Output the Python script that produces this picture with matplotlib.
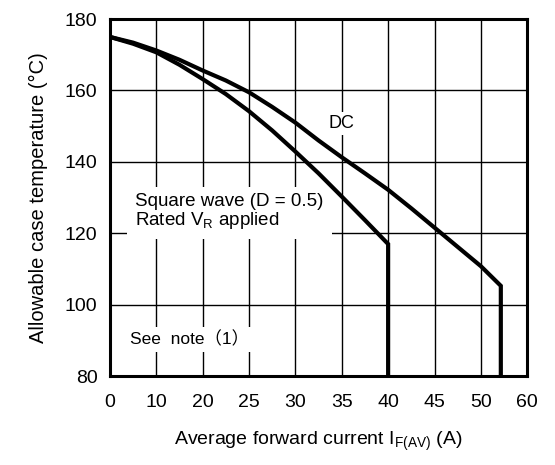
import numpy as np
import matplotlib.pyplot as plt

plt.rcParams['font.family'] = ['Liberation Sans', 'DejaVu Sans']
plt.rcParams['mathtext.fontset'] = 'custom'
plt.rcParams['mathtext.rm'] = 'Liberation Sans'

# x axis is not linear: equally spaced ticks with these labels
x_ticks = [0, 10, 20, 25, 30, 35, 40, 45, 50, 60]
y_ticks = [80, 100, 120, 140, 160, 180]

# square wave (D = 0.5), rated VR applied
sq_current = [0, 5, 10, 15, 20, 22.5, 25, 27.5, 30, 32.5, 35, 37.5, 40, 40]
sq_temp = [175, 173.1, 170.7, 167.2, 163.2, 159.0, 154.2, 148.8, 142.9, 136.8, 130.3, 123.7, 117, 80]

# DC
dc_current = [0, 5, 10, 15, 20, 22.5, 25, 27.5, 30, 32.5, 35, 37.5, 40, 42.5, 45, 47.5, 50, 54.3, 54.3]
dc_temp = [175, 173.4, 171.2, 168.6, 165.6, 162.8, 159.5, 155.4, 151.0, 146.0, 141.3, 136.8, 132.2, 127.0,
           121.6, 116.2, 110.8, 105.3, 80]

pos = np.arange(len(x_ticks))


def fwd(x):
    return np.interp(x, x_ticks, pos)


def inv(p):
    return np.interp(p, pos, x_ticks)


fig = plt.figure(figsize=(5.55, 4.65), dpi=100)
ax = fig.add_axes([0.198, 0.191, 0.752, 0.768])
ax.set_xscale('function', functions=(fwd, inv))
ax.set_xlim(0, 60)
ax.set_ylim(80, 180)
ax.set_xticks(x_ticks)
ax.set_xticklabels([str(v) for v in x_ticks])
ax.set_yticks(y_ticks)
ax.tick_params(length=0, labelsize=14)
ax.tick_params(axis='x', pad=13)
ax.tick_params(axis='y', pad=9)
ax.grid(True, color='black', linewidth=1.0)
ax.set_axisbelow(True)
for s in ax.spines.values():
    s.set_linewidth(2.2)

ax.plot(sq_current, sq_temp, color='black', linewidth=3, solid_joinstyle='miter', zorder=3)
ax.plot(dc_current, dc_temp, color='black', linewidth=3, solid_joinstyle='miter', zorder=3)

ax.text(35, 150.8, 'DC', fontsize=13, ha='center', va='center',
        bbox=dict(facecolor='white', edgecolor='none', pad=2), zorder=2)
ax.text(5.4, 126, 'Square wave (D = 0.5)\nRated V$_\\mathregular{R}$ applied', fontsize=13.5,
        ha='left', va='center', linespacing=1.0,
        bbox=dict(facecolor='white', edgecolor='none', pad=6), zorder=2)
ax.text(4.4, 90.3, 'See  note（1）', fontsize=12.5, ha='left', va='center',
        family=['Liberation Sans', 'Noto Sans CJK JP'],
        bbox=dict(facecolor='white', edgecolor='none', pad=3), zorder=2)

ax.set_ylabel('Allowable case temperature (°C)', fontsize=14.5, labelpad=12)
ax.set_xlabel('Average forward current I$_\\mathregular{F(AV)}$ (A)', fontsize=14, labelpad=13)

fig.savefig('out.png', dpi=100)
